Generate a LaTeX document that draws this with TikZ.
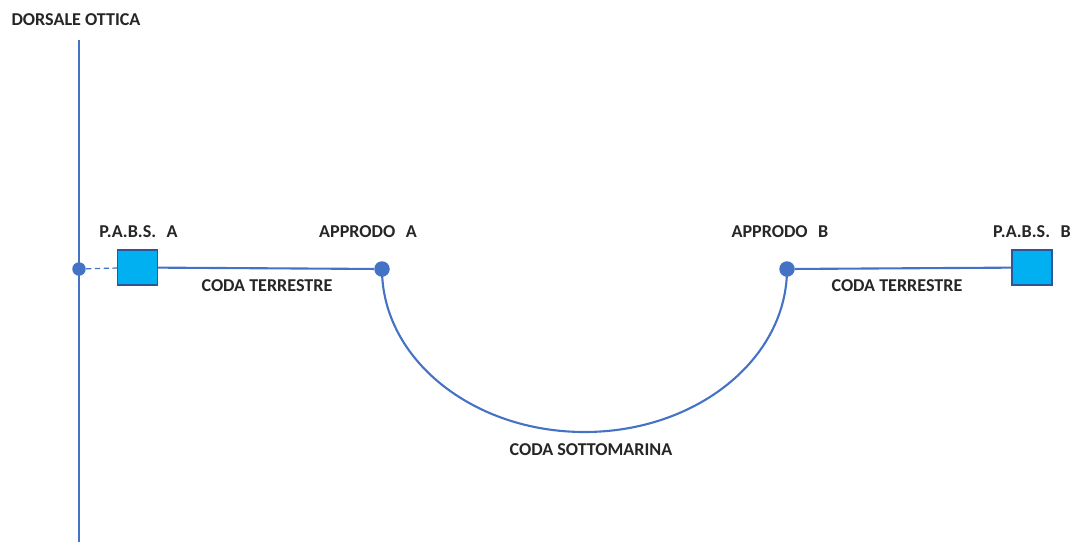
\documentclass[tikz,border=0pt]{standalone}
\usepackage{fontspec}
\setmainfont{Carlito}
\usetikzlibrary{positioning}
\definecolor{linea}{HTML}{4472C4}
\definecolor{pabs}{HTML}{00B0F0}
\definecolor{bordo}{HTML}{2F5597}

\begin{document}
\begin{tikzpicture}[x=0.02cm, y=-0.02cm,
  etichetta/.style={font=\bfseries\fontsize{10.3}{12}\selectfont, text=black!85, inner sep=0pt},
  cavo/.style={linea, line width=1.2pt},
  giunto/.style={circle, fill=linea, inner sep=0pt, minimum size=0.31cm},
  stazione/.style={draw=bordo, line width=0.6pt, fill=pabs, inner sep=0pt, minimum width=0.8cm, minimum height=0.7cm}]
  \useasboundingbox (0,0) rectangle (1072,542);

  % Dorsale
  \coordinate (dorsTop) at (79,40);
  \coordinate (dorsBot) at (79,542);
  \draw[cavo] (dorsTop) -- (dorsBot);
  \node[giunto, minimum size=0.27cm] (dors) at (79,269) {};
  \node[etichetta] (dorsLab) at (76,20) {DORSALE OTTICA};

  % Stazioni e approdi
  \node[stazione] (pabsA) at (137.5,267.5) {};
  \node[stazione] (pabsB) at (1032,267.5) {};
  \node[giunto] (appA) at (382,269) {};
  \node[giunto] (appB) at (787,269) {};

  % Collegamenti
  \draw[cavo, line width=0.7pt, dash pattern=on 3pt off 2pt] (dors) -- (pabsA);
  \draw[cavo] (pabsA) -- (appA);
  \draw[cavo] (appB) -- (pabsB);
  \draw[cavo] (appA.center) arc[start angle=180, end angle=0, x radius=202.5, y radius=163];

  % Etichette
  \node[etichetta] at (138.5,232) {P.A.B.S.\hspace{6pt}A};
  \node[etichetta] at (368,232) {APPRODO\hspace{6pt}A};
  \node[etichetta] at (780,232) {APPRODO\hspace{6pt}B};
  \node[etichetta] at (1032,232) {P.A.B.S.\hspace{6pt}B};
  \node[etichetta] at (267,286) {CODA TERRESTRE};
  \node[etichetta] at (897,286) {CODA TERRESTRE};
  \node[etichetta] at (591,450) {CODA SOTTOMARINA};
\end{tikzpicture}
\end{document}
